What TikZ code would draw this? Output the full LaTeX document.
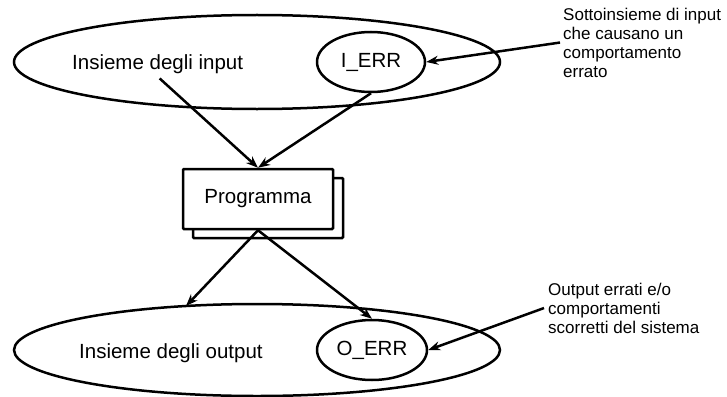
\documentclass[tikz,border=0pt]{standalone}
\usepackage{fontspec}
\setmainfont{Liberation Sans}
\usetikzlibrary{positioning,arrows.meta,shapes.geometric,shadows}

\begin{document}
\begin{tikzpicture}[x=1pt,y=-1pt,
      every node/.style={font=\fontsize{20.5}{24}\selectfont},
      setell/.style={draw,ellipse,line width=2.5pt,inner sep=0pt},
      errell/.style={draw,ellipse,line width=2.5pt,inner sep=0pt,minimum width=108pt,minimum height=60pt},
      setlabel/.style={inner sep=2pt,anchor=base west},
      progbox/.style={draw,fill=white,line width=2.5pt,rounded corners=1pt,minimum width=150pt,minimum height=60pt,
        copy shadow={shadow xshift=10pt,shadow yshift=-9pt,fill=white,draw=black,line width=2.5pt}},
      note/.style={align=left,inner sep=0pt,anchor=north west,font=\fontsize{17}{19}\selectfont},
      arr/.style={-{Stealth[length=12pt,width=9pt]},line width=2.5pt}]
    \useasboundingbox (0,0) rectangle (727,396);
    % Input set with the faulty subset
    \node[setell,minimum width=486pt,minimum height=94pt] (inset) at (257,62) {};
    \node[setlabel] (inlabel) at (70,70) {Insieme degli input};
    \node[errell] (ierr) at (371,62) {I\_ERR};
    % Program box with shadow copy
    \node[progbox] (prog) at (258,199) {Programma};
    % Output set with the faulty subset
    \node[setell,minimum width=486pt,minimum height=92pt] (outset) at (257,350) {};
    \node[setlabel] (outlabel) at (77,358) {Insieme degli output};
    \node[errell,minimum width=110pt] (oerr) at (372,350) {O\_ERR};
    \coordinate (outtip) at (186,306);
    % Notes on the right
    \node[note] (inote) at (563,7.6) {Sottoinsieme di input\\che causano un\\comportamento\\errato};
    \node[note] (onote) at (548,282.6) {Output errati e/o\\comportamenti\\scorretti del sistema};
    % Flow through the program
    \draw[arr] ([xshift=2pt,yshift=-2pt]inlabel.south) -- (prog.north);
    \draw[arr] (ierr.south) -- (prog.north);
    \draw[arr] (prog.south) -- (outtip);
    \draw[arr] (prog.south) -- (oerr.north);
    % Notes point to their subsets
    \draw[arr] ([xshift=-3pt]inote.west) -- (ierr.east);
    \draw[arr] ([xshift=-4pt]onote.west) -- (oerr.east);
\end{tikzpicture}
\end{document}
